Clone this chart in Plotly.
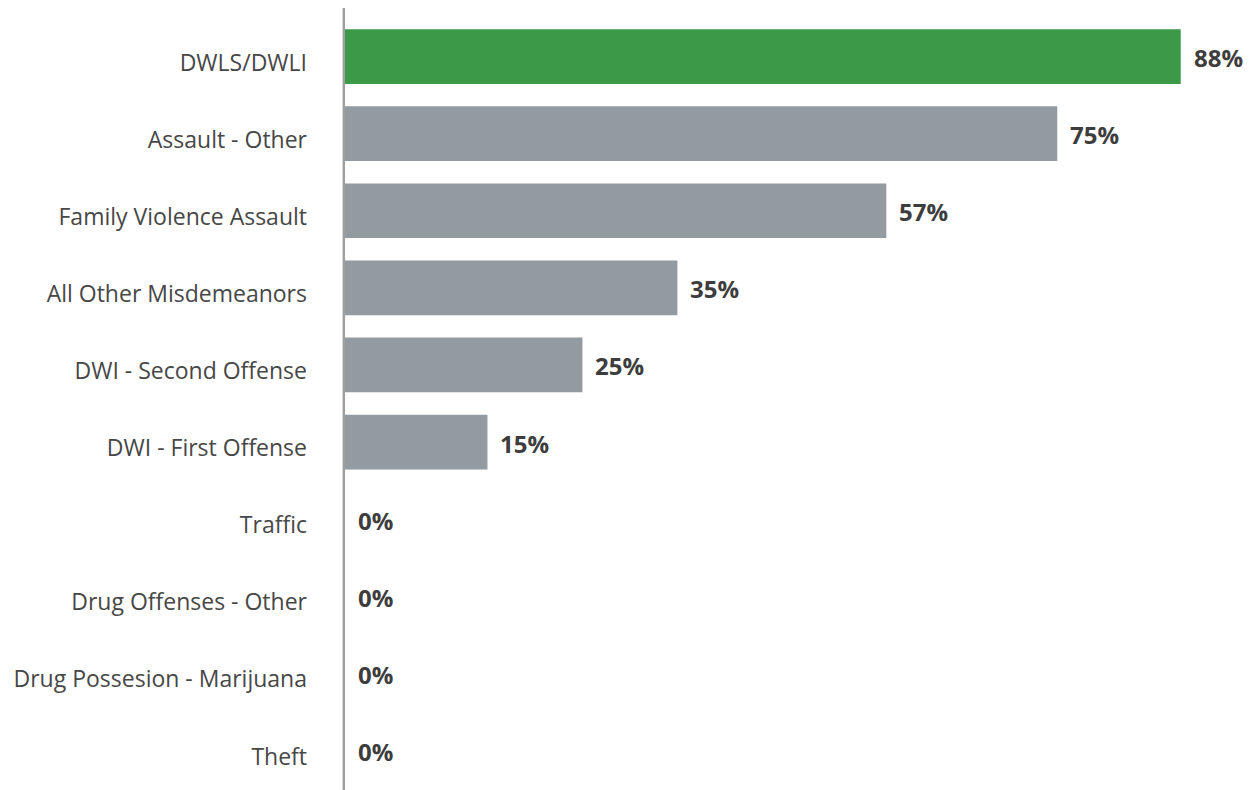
import plotly.graph_objects as go

categories = ["DWLS/DWLI", "Assault - Other", "Family Violence Assault", "All Other Misdemeanors",
              "DWI - Second Offense", "DWI - First Offense", "Traffic", "Drug Offenses - Other",
              "Drug Possesion - Marijuana", "Theft"]
values = [88, 75, 57, 35, 25, 15, 0, 0, 0, 0]
labels = [f"{v}%" for v in values]
colors = ["#3a9a48"] + ["#939aa0"] * 9

FONT = "Open Sans, Lato, sans-serif"

fig = go.Figure()
fig.add_trace(go.Bar(
    y=categories, x=values, orientation="h",
    marker=dict(color=colors, line=dict(width=0)),
    width=0.71, hoverinfo="skip",
))

for c, v, t in zip(categories, values, labels):
    fig.add_annotation(x=v, y=c, text=f"<b>{t}</b>", showarrow=False,
                       xanchor="left", xshift=11, yshift=-1,
                       font=dict(family=FONT, size=24, color="#3d3d3d"))

fig.add_shape(type="line", xref="paper", yref="paper", x0=-0.0013, x1=-0.0013, y0=-0.01, y1=1.013,
              line=dict(color="#a0a0a0", width=2.5))

fig.update_layout(
    width=1243, height=782,
    margin=dict(l=337, r=0, t=10, b=1, pad=0),
    plot_bgcolor="white", paper_bgcolor="white",
    showlegend=False,
    font=dict(family=FONT, size=23, color="#474747"),
    xaxis=dict(range=[0, 95.4], visible=False, fixedrange=True, automargin=False),
    yaxis=dict(autorange="reversed", showgrid=False, zeroline=False, showline=False,
               automargin=False, ticks="", ticklabelstandoff=37, ticklabelshift=-6,
               tickfont=dict(family=FONT, size=23, color="#474747")),
)

fig.write_html("out.html")
